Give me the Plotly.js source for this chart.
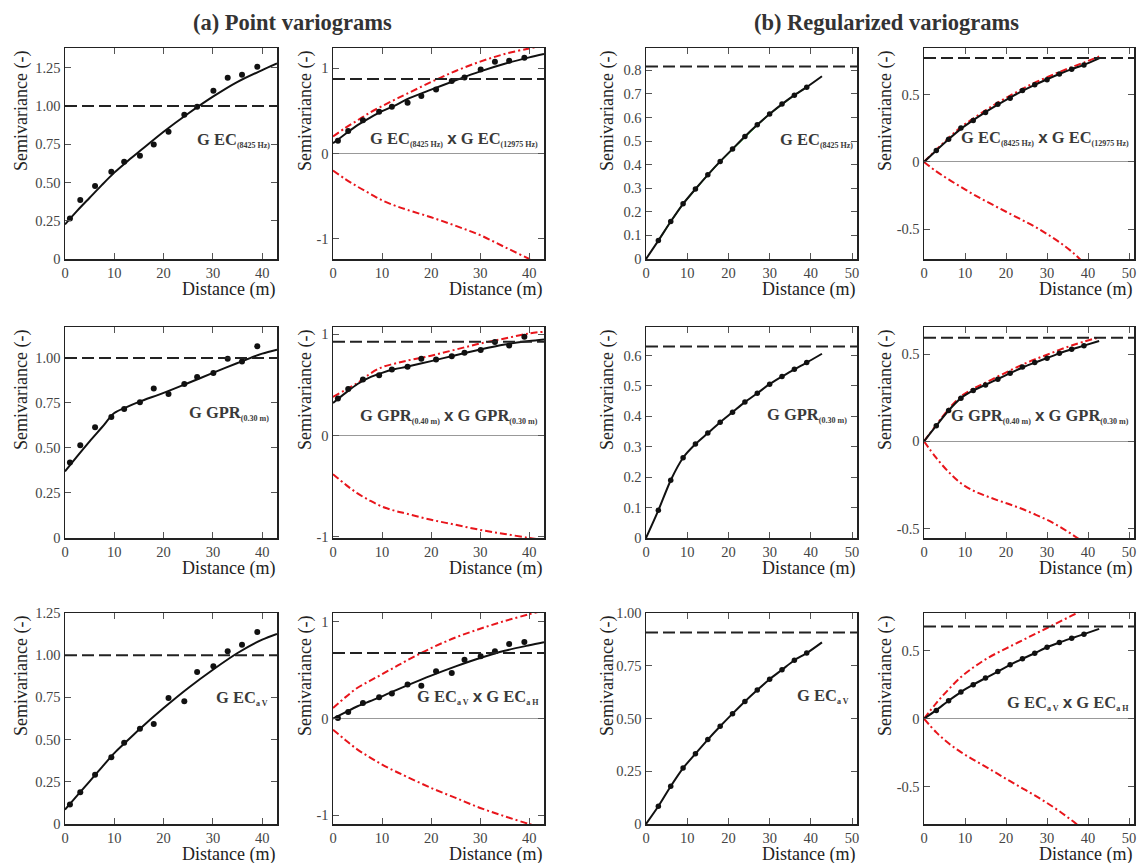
<!DOCTYPE html>
<html><head><meta charset="utf-8">
<script src="https://cdn.plot.ly/plotly-3.0.1.min.js"></script>
<style>body{margin:0;background:#fff}#chart{width:1138px;height:863px}</style>
</head><body><div id="chart"></div>
<script>
// ---------- lags ----------
const lagPoint = [1.0,3.1,6.1,9.4,12.0,15.2,18.0,21.0,24.2,26.8,30.1,33.0,35.9,39.0];
const lagReg = [3,6,9,12,15,18,21,24,27,30,33,36,39];
const modelXPoint = [0,2.5,5,7.5,10,12.5,15,20,25,30,35,40,43];
const modelXReg = [0,3,6,9,12,15,18,21,24,27,30,33,36,39,42.7];

// ---------- (a) point variograms ----------
const expEC8425 = [0.265,0.385,0.476,0.570,0.635,0.675,0.748,0.831,0.942,0.994,1.099,1.184,1.203,1.255];
const modEC8425 = [0.226,0.316,0.40,0.484,0.564,0.634,0.70,0.831,0.95,1.06,1.157,1.234,1.277];
const sillEC8425 = 1.0;

const expCrossEC = [0.149,0.263,0.392,0.49,0.549,0.596,0.675,0.753,0.851,0.894,0.988,1.078,1.09,1.125];
const modCrossEC = [0.12,0.23,0.333,0.42,0.498,0.56,0.635,0.75,0.86,0.965,1.055,1.13,1.17];
const upCrossEC = [0.2,0.3,0.39,0.48,0.557,0.63,0.70,0.84,0.97,1.08,1.17,1.235,1.27];
const loCrossEC = [-0.2,-0.3,-0.39,-0.47,-0.55,-0.61,-0.66,-0.75,-0.85,-0.96,-1.1,-1.24,-1.33];
const sillCrossEC = 0.875;

const expGPR = [0.42,0.515,0.615,0.672,0.717,0.754,0.83,0.80,0.856,0.894,0.917,0.996,0.981,1.065];
const modGPR = [0.37,0.455,0.537,0.615,0.694,0.727,0.756,0.806,0.861,0.917,0.972,1.024,1.046];
const sillGPR = 1.0;

const expCrossGPR = [0.366,0.462,0.554,0.597,0.653,0.68,0.759,0.752,0.785,0.818,0.845,0.924,0.891,0.977];
const modCrossGPR = [0.323,0.42,0.51,0.575,0.62,0.655,0.68,0.736,0.795,0.851,0.90,0.934,0.95];
const upCrossGPR = [0.383,0.45,0.52,0.61,0.677,0.71,0.74,0.79,0.85,0.91,0.96,1.01,1.026];
const loCrossGPR = [-0.38,-0.48,-0.57,-0.64,-0.70,-0.74,-0.77,-0.83,-0.88,-0.93,-0.97,-1.01,-1.03];
const sillCrossGPR = 0.927;

const expECaV = [0.115,0.188,0.292,0.395,0.482,0.565,0.592,0.746,0.727,0.90,0.934,1.023,1.062,1.137];
const modECaV = [0.085,0.17,0.253,0.337,0.42,0.49,0.559,0.687,0.806,0.914,1.013,1.092,1.126];
const sillECaV = 1.0;

const expCrossECa = [0.007,0.069,0.162,0.221,0.259,0.352,0.341,0.49,0.472,0.61,0.645,0.697,0.772,0.793];
const modCrossECa = [0,0.065,0.128,0.18,0.231,0.287,0.341,0.445,0.541,0.628,0.703,0.759,0.79];
const upCrossECa = [0.11,0.22,0.32,0.39,0.46,0.53,0.6,0.73,0.84,0.93,1.01,1.08,1.12];
const loCrossECa = [-0.114,-0.22,-0.32,-0.40,-0.476,-0.54,-0.6,-0.717,-0.82,-0.924,-1.01,-1.09,-1.13];
const sillCrossECa = 0.679;

// ---------- (b) regularized variograms ----------
const regExpEC8425 = [0.078,0.159,0.234,0.297,0.357,0.414,0.467,0.52,0.569,0.615,0.657,0.695,0.729];
const regModEC8425 = [0,0.078,0.159,0.234,0.297,0.357,0.414,0.467,0.52,0.569,0.615,0.657,0.695,0.729,0.775];
const regSillEC8425 = 0.817;

const regExpCrossEC = [0.084,0.168,0.252,0.307,0.366,0.428,0.473,0.53,0.572,0.609,0.653,0.688,0.718];
const regModCrossEC = [0,0.085,0.168,0.245,0.31,0.37,0.425,0.477,0.527,0.572,0.613,0.652,0.688,0.72,0.768];
const regUpCrossEC = [0,0.09,0.178,0.258,0.322,0.383,0.44,0.492,0.542,0.588,0.628,0.667,0.703,0.737,0.782];
const regLoCrossEC = [0,-0.07,-0.13,-0.185,-0.24,-0.29,-0.338,-0.385,-0.432,-0.48,-0.535,-0.595,-0.665,-0.75,-0.86];
const regSillCrossEC = 0.77;

const regExpGPR = [0.091,0.19,0.264,0.309,0.345,0.381,0.414,0.447,0.476,0.506,0.531,0.555,0.577];
const regModGPR = [0,0.091,0.19,0.264,0.309,0.345,0.381,0.414,0.447,0.476,0.506,0.531,0.555,0.577,0.606];
const regSillGPR = 0.63;

const regExpCrossGPR = [0.09,0.177,0.248,0.292,0.324,0.357,0.391,0.426,0.452,0.477,0.506,0.529,0.548];
const regModCrossGPR = [0,0.09,0.177,0.248,0.292,0.325,0.358,0.391,0.424,0.452,0.478,0.505,0.528,0.549,0.576];
const regUpCrossGPR = [0,0.095,0.185,0.258,0.302,0.337,0.372,0.407,0.44,0.47,0.497,0.525,0.55,0.572,0.597];
const regLoCrossGPR = [0,-0.095,-0.175,-0.24,-0.282,-0.312,-0.338,-0.362,-0.388,-0.418,-0.45,-0.488,-0.532,-0.58,-0.64];
const regSillCrossGPR = 0.595;

const regExpECaV = [0.084,0.179,0.265,0.333,0.40,0.463,0.523,0.581,0.635,0.686,0.731,0.776,0.81];
const regModECaV = [0,0.084,0.179,0.265,0.333,0.40,0.463,0.523,0.581,0.635,0.686,0.731,0.776,0.81,0.861];
const regSillECaV = 0.908;

const regExpCrossECa = [0.061,0.132,0.195,0.249,0.298,0.346,0.395,0.439,0.48,0.524,0.559,0.59,0.62];
const regModCrossECa = [0,0.063,0.132,0.195,0.249,0.298,0.346,0.395,0.439,0.48,0.524,0.559,0.59,0.62,0.659];
const regUpCrossECa = [0,0.115,0.215,0.305,0.375,0.435,0.485,0.53,0.575,0.62,0.665,0.71,0.755,0.80,0.85];
const regLoCrossECa = [0,-0.1,-0.18,-0.245,-0.3,-0.352,-0.405,-0.458,-0.51,-0.562,-0.618,-0.678,-0.745,-0.815,-0.9];
const regSillCrossECa = 0.676;

// ---------- ticks ----------
const xTicksPoint = [0,10,20,30,40];
const xTicksReg = [0,10,20,30,40,50];
const yT125 = [0,0.25,0.5,0.75,1,1.25], yT125txt = ['0','0.25','0.50','0.75','1.00','1.25'];
const yT100 = [0,0.25,0.5,0.75,1], yT100txt = ['0','0.25','0.50','0.75','1.00'];
const yT1 = [-1,0,1], yT1txt = ['-1','0','1'];
const yT05 = [-0.5,0,0.5], yT05txt = ['-0.5','0','0.5'];
const yT08 = [0,0.1,0.2,0.3,0.4,0.5,0.6,0.7,0.8], yT08txt = ['0','0.1','0.2','0.3','0.4','0.5','0.6','0.7','0.8'];
const yT06 = [0,0.1,0.2,0.3,0.4,0.5,0.6], yT06txt = ['0','0.1','0.2','0.3','0.4','0.5','0.6'];

// ---------- labels ----------
const sub = s => '<sub><span style="font-size:8px">' + s + '</span></sub>';
const X = ' <span style="font-family:Liberation Sans;font-size:17px">x</span> ';
const lblEC = 'G EC' + sub('(8425 Hz)');
const lblCrossEC = 'G EC' + sub('(8425 Hz)') + X + 'G EC' + sub('(12975 Hz)');
const lblGPR = 'G GPR' + sub('(0.30 m)');
const lblCrossGPR = 'G GPR' + sub('(0.40 m)') + X + 'G GPR' + sub('(0.30 m)');
const lblECaV = 'G EC' + sub('a V');
const lblCrossECa = 'G EC' + sub('a V') + X + 'G EC' + sub('a H');

// ---------- panel definitions ----------
const panels = [
  {lag:lagPoint, exp:expEC8425, mx:modelXPoint, mod:modEC8425, sill:sillEC8425, yr:[0,1.378], yt:yT125, ytt:yT125txt, reg:false, lbl:lblEC, lx:42, ly:0.777, la:'right'},
  {lag:lagPoint, exp:expCrossEC, mx:modelXPoint, mod:modCrossEC, up:upCrossEC, lo:loCrossEC, sill:sillCrossEC, yr:[-1.24,1.24], yt:yT1, ytt:yT1txt, reg:false, lbl:lblCrossEC, lx:24.7, ly:0.165, la:'center'},
  {lag:lagReg, exp:regExpEC8425, mx:modelXReg, mod:regModEC8425, sill:regSillEC8425, yr:[0,0.895], yt:yT08, ytt:yT08txt, reg:true, lbl:lblEC, lx:50.6, ly:0.506, la:'right', green:true},
  {lag:lagReg, exp:regExpCrossEC, mx:modelXReg, mod:regModCrossEC, up:regUpCrossEC, lo:regLoCrossEC, sill:regSillCrossEC, yr:[-0.72,0.845], yt:yT05, ytt:yT05txt, reg:true, lbl:lblCrossEC, lx:29.6, ly:0.176, la:'center'},
  {lag:lagPoint, exp:expGPR, mx:modelXPoint, mod:modGPR, sill:sillGPR, yr:[0,1.172], yt:yT100, ytt:yT100txt, reg:false, lbl:lblGPR, lx:41.8, ly:0.694, la:'right'},
  {lag:lagPoint, exp:expCrossGPR, mx:modelXPoint, mod:modCrossGPR, up:upCrossGPR, lo:loCrossGPR, sill:sillCrossGPR, yr:[-1.01,1.073], yt:yT1, ytt:yT1txt, reg:false, lbl:lblCrossGPR, lx:23.6, ly:0.19, la:'center'},
  {lag:lagReg, exp:regExpGPR, mx:modelXReg, mod:regModGPR, sill:regSillGPR, yr:[0,0.694], yt:yT06, ytt:yT06txt, reg:true, lbl:lblGPR, lx:49.2, ly:0.405, la:'right'},
  {lag:lagReg, exp:regExpCrossGPR, mx:modelXReg, mod:regModCrossGPR, up:regUpCrossGPR, lo:regLoCrossGPR, sill:regSillCrossGPR, yr:[-0.554,0.656], yt:yT05, ytt:yT05txt, reg:true, lbl:lblCrossGPR, lx:28.3, ly:0.143, la:'center'},
  {lag:lagPoint, exp:expECaV, mx:modelXPoint, mod:modECaV, sill:sillECaV, yr:[0,1.25], yt:yT125, ytt:yT125txt, reg:false, lbl:lblECaV, lx:41.5, ly:0.746, la:'right'},
  {lag:lagPoint, exp:expCrossECa, mx:modelXPoint, mod:modCrossECa, up:upCrossECa, lo:loCrossECa, sill:sillCrossECa, yr:[-1.09,1.093], yt:yT1, ytt:yT1txt, reg:false, lbl:lblCrossECa, lx:29.5, ly:0.22, la:'center'},
  {lag:lagReg, exp:regExpECaV, mx:modelXReg, mod:regModECaV, sill:regSillECaV, yr:[0,1.0], yt:yT100, ytt:yT100txt, reg:true, lbl:lblECaV, lx:49.8, ly:0.605, la:'right'},
  {lag:lagReg, exp:regExpCrossECa, mx:modelXReg, mod:regModCrossECa, up:regUpCrossECa, lo:regLoCrossECa, sill:regSillCrossECa, yr:[-0.772,0.775], yt:yT05, ytt:yT05txt, reg:true, lbl:lblCrossECa, lx:35.2, ly:0.115, la:'center'}
];

// ---------- geometry (pixels) ----------
const W = 1138, H = 863;
const colPx = [[65,277],[333,544],[646,857],[924,1134]];
const rowPx = [[48,259],[327,538],[613,824]];
const yTitleX = [21,305,607,885];

const FONT = 'Liberation Serif, Times New Roman, serif';
const traces = [], layout = {
  width: W, height: H, margin:{l:0,r:0,t:0,b:0},
  paper_bgcolor:'#fff', plot_bgcolor:'#fff', showlegend:false,
  font:{family:FONT, color:'#333'},
  shapes:[], annotations:[]
};

panels.forEach((p, i) => {
  const n = i + 1, c = i % 4, r = Math.floor(i / 4);
  const xa = n === 1 ? 'x' : 'x' + n, ya = n === 1 ? 'y' : 'y' + n;
  const xk = n === 1 ? 'xaxis' : 'xaxis' + n, yk = n === 1 ? 'yaxis' : 'yaxis' + n;
  const cross = !!p.up;
  layout[xk] = {
    domain:[colPx[c][0]/W, colPx[c][1]/W], anchor:ya,
    range: p.reg ? [0,51.2] : [0,43],
    tickvals: p.reg ? xTicksReg : xTicksPoint,
    ticktext: (p.reg ? xTicksReg : xTicksPoint).map(String),
    showgrid:false, zeroline:false, showline:true, linecolor:'#222', linewidth:1.5,
    mirror:'ticks', ticks:'inside', ticklen:6, tickwidth:1, tickcolor:'#555',
    tickfont:{family:FONT, size:14.5, color:'#444'}, fixedrange:true
  };
  layout[yk] = {
    domain:[1 - rowPx[r][1]/H, 1 - rowPx[r][0]/H], anchor:xa,
    range:p.yr, tickvals:p.yt, ticktext:p.ytt,
    showgrid:false, zeroline:cross, zerolinecolor:'#999', zerolinewidth:1,
    showline:true, linecolor:'#222', linewidth:1.5,
    mirror:'ticks', ticks:'inside', ticklen:6, tickwidth:1, tickcolor:'#555',
    tickfont:{family:FONT, size:14.5, color:'#444'}, fixedrange:true
  };
  // sill
  layout.shapes.push({type:'line', xref:xa + ' domain', yref:ya, x0:0, x1:1, y0:p.sill, y1:p.sill,
    line:{color:'#222', width:2, dash:'12px,5px'}, layer:'above'});
  const sm = p.reg ? 0.7 : 0.8;
  if (cross) {
    traces.push({x:p.mx, y:p.up, xaxis:xa, yaxis:ya, mode:'lines', line:{color:'#e8151b', width:2, dash:'7px,3px,2px,3px', shape:'spline', smoothing:1.0}, hoverinfo:'skip'});
    traces.push({x:p.mx, y:p.lo, xaxis:xa, yaxis:ya, mode:'lines', line:{color:'#e8151b', width:2, dash:'7px,3px,2px,3px', shape:'spline', smoothing:1.0}, hoverinfo:'skip'});
  }
  if (p.green) {
    traces.push({x:p.lag, y:p.exp, xaxis:xa, yaxis:ya, mode:'lines', line:{color:'#3a3', width:1.5}, hoverinfo:'skip'});
  }
  traces.push({x:p.mx, y:p.mod, xaxis:xa, yaxis:ya, mode:'lines', line:{color:'#111', width:2, shape:'spline', smoothing:sm}, hoverinfo:'skip'});
  traces.push({x:p.lag, y:p.exp, xaxis:xa, yaxis:ya, mode:'markers', marker:{color:'#111', size:p.reg ? 5.5 : 6}, hoverinfo:'skip'});

  // in-panel label
  layout.annotations.push({xref:xa, yref:ya, x:p.lx, y:p.ly, xanchor:p.la, yanchor:'middle', showarrow:false,
    text:'<b>' + p.lbl + '</b>', font:{family:FONT, size:16.5, color:'#3a3a3a'}});
  // axis titles
  layout.annotations.push({xref:xa + ' domain', yref:ya + ' domain', x:1, y:0, xanchor:'right', yanchor:'top', yshift:-18,
    showarrow:false, text:'Distance (m)', font:{family:FONT, size:18, color:'#222'}});
  layout.annotations.push({xref:'paper', yref:ya + ' domain', x:yTitleX[c]/W, y:1, xanchor:'center', yanchor:'top', yshift:-1,
    textangle:-90, showarrow:false, text:'Semivariance (-)', font:{family:FONT, size:18, color:'#222'}});
});

// group titles
layout.annotations.push({xref:'paper', yref:'paper', x:293/W, y:1 - 22/H, xanchor:'center', yanchor:'middle', showarrow:false,
  text:'<b>(a) Point variograms</b>', font:{family:FONT, size:22.5, color:'#333'}});
layout.annotations.push({xref:'paper', yref:'paper', x:886/W, y:1 - 22/H, xanchor:'center', yanchor:'middle', showarrow:false,
  text:'<b>(b) Regularized variograms</b>', font:{family:FONT, size:22.5, color:'#333'}});

Plotly.newPlot('chart', traces, layout, {staticPlot:true, displayModeBar:false});
</script></body></html>
